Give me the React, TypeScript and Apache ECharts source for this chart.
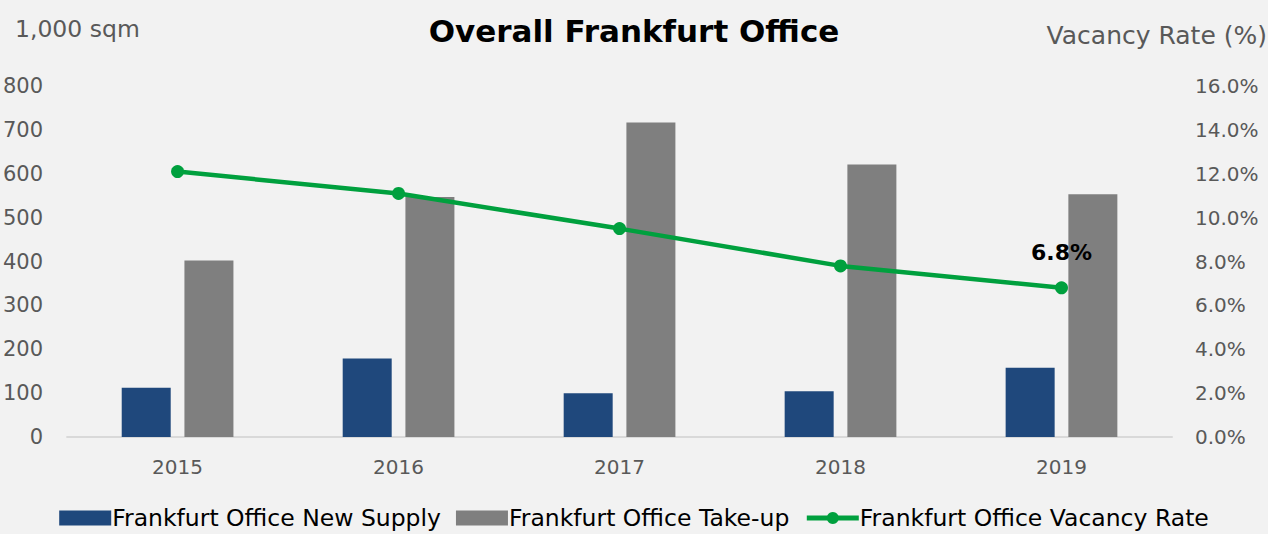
import React, { useEffect, useRef } from "react";
import * as echarts from "echarts";

const years = ["2015", "2016", "2017", "2018", "2019"];
const newSupply = [112, 179, 100, 104, 158];
const takeUp = [402, 547, 717, 621, 553];
const vacancyRate = [12.1, 11.1, 9.5, 7.8, 6.8];

const FONT = "DejaVu Sans";

export default function App() {
  const ref = useRef<HTMLDivElement>(null);
  useEffect(() => {
    document.body.style.margin = "0";
    const chart = echarts.init(ref.current!, null, { renderer: "svg" });
    const last = vacancyRate.length - 1;
    chart.setOption({
      animation: false,
      backgroundColor: "#f2f2f2",
      textStyle: { fontFamily: FONT },
      title: {
        text: "Overall Frankfurt Office",
        left: "center",
        top: 10,
        textStyle: { fontFamily: FONT, fontSize: 31, fontWeight: "bold", color: "#000" },
      },
      graphic: [
        {
          type: "text",
          left: 15,
          top: 17,
          style: { text: "1,000 sqm", font: `23.5px '${FONT}'`, fill: "#595959" },
        },
        {
          type: "text",
          right: 1,
          top: 23,
          style: { text: "Vacancy Rate (%)", font: `25px '${FONT}'`, fill: "#595959" },
        },
      ],
      legend: {
        bottom: -1,
        left: "center",
        itemWidth: 52,
        itemHeight: 15,
        itemGap: 15,
        textStyle: { fontFamily: FONT, fontSize: 23.5, color: "#000", padding: [0, 0, 0, -4] },
        data: [
          { name: "Frankfurt Office New Supply", icon: "rect" },
          { name: "Frankfurt Office Take-up", icon: "rect" },
          {
            name: "Frankfurt Office Vacancy Rate",
            lineStyle: { width: 5 },
          },
        ],
      },
      grid: { left: 67, right: 96, top: 86, bottom: 97, containLabel: false },
      xAxis: {
        type: "category",
        data: years,
        axisTick: { show: false },
        axisLine: { lineStyle: { color: "#d9d9d9", width: 2 } },
        axisLabel: { color: "#595959", fontSize: 20, margin: 20, fontFamily: FONT },
      },
      yAxis: [
        {
          type: "value",
          min: 0,
          max: 800,
          interval: 100,
          splitLine: { show: false },
          axisLine: { show: false },
          axisTick: { show: false },
          axisLabel: { color: "#595959", fontSize: 21, margin: 24, fontFamily: FONT },
        },
        {
          type: "value",
          min: 0,
          max: 16,
          interval: 2,
          position: "right",
          splitLine: { show: false },
          axisLine: { show: false },
          axisTick: { show: false },
          axisLabel: {
            color: "#595959",
            fontSize: 20,
            margin: 23,
            fontFamily: FONT,
            formatter: (v: number) => v.toFixed(1) + "%",
          },
        },
      ],
      series: [
        {
          name: "Frankfurt Office New Supply",
          type: "bar",
          data: newSupply,
          barWidth: 49,
          barGap: "28%",
          itemStyle: { color: "#1f487c" },
        },
        {
          name: "Frankfurt Office Take-up",
          type: "bar",
          data: takeUp,
          barWidth: 49,
          itemStyle: { color: "#7f7f7f" },
        },
        {
          name: "Frankfurt Office Vacancy Rate",
          type: "line",
          yAxisIndex: 1,
          data: vacancyRate.map((v, i) =>
            i === last
              ? {
                  value: v,
                  label: {
                    show: true,
                    position: "top",
                    distance: 18,
                    formatter: (p: any) => Number(p.value).toFixed(1) + "%",
                    fontFamily: FONT,
                    fontSize: 22,
                    fontWeight: "bold",
                    color: "#000",
                  },
                }
              : v
          ),
          symbol: "circle",
          symbolSize: 13,
          lineStyle: { color: "#00a03e", width: 4.5 },
          itemStyle: { color: "#00a03e" },
          z: 5,
        },
      ],
    });
    return () => chart.dispose();
  }, []);
  return <div ref={ref} style={{ width: 1268, height: 534 }} />;
}
